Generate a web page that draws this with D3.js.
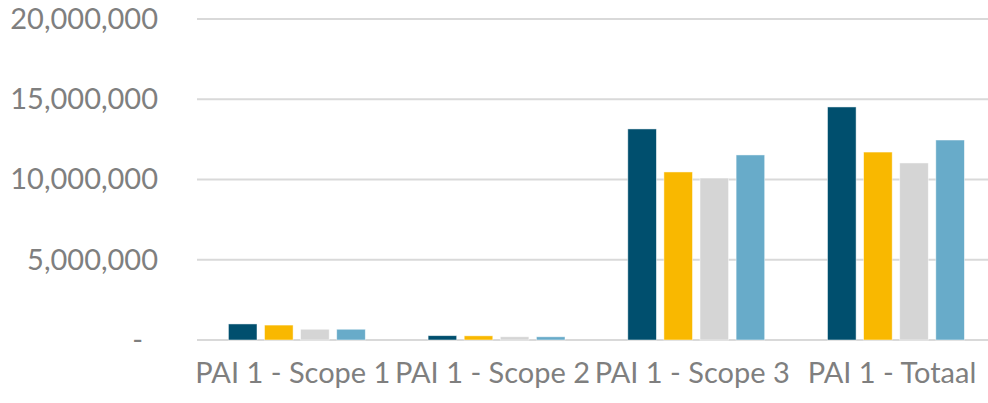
<!DOCTYPE html>
<html>
<head>
<meta charset="utf-8">
<script src="https://cdn.jsdelivr.net/npm/d3@7"></script>
<style>
  html, body { margin: 0; padding: 0; background: #ffffff; }
  svg { display: block; }
</style>
</head>
<body>
<svg id="chart" width="988" height="403"></svg>
<script>
// ---- Data ----
const categories = ["PAI 1 - Scope 1", "PAI 1 - Scope 2", "PAI 1 - Scope 3", "PAI 1 - Totaal"];
const seriesNames = ["Series 1", "Series 2", "Series 3", "Series 4"];
const series1 = [1000000, 270000, 13150000, 14520000];
const series2 = [930000, 260000, 10470000, 11710000];
const series3 = [670000, 200000, 10090000, 11030000];
const series4 = [670000, 200000, 11530000, 12460000];
const yTicks = [0, 5000000, 10000000, 15000000, 20000000];
const colors = ["#004F6E", "#F9B800", "#D5D5D5", "#68ABC9"];

const allSeries = [series1, series2, series3, series4];

// ---- Layout ----
const svg = d3.select("#chart");
const plotLeft = 197, groupStep = 199.7;
const plotTop = 19, plotBottom = 340;

const x0 = d3.scaleBand().domain(categories)
  .range([plotLeft, plotLeft + groupStep * categories.length]).padding(0);
const x1 = d3.scaleBand().domain(seriesNames)
  .range([31.4, groupStep - 31.4]).paddingInner(0.208).paddingOuter(0);
const y = d3.scaleLinear().domain([0, 20000000]).range([plotBottom, plotTop]);

const font = "Lato, 'Open Sans', sans-serif";
const textColor = "#7F7F7F";

// Gridlines
svg.append("g").selectAll("line").data(yTicks).join("line")
  .attr("x1", plotLeft).attr("x2", 988)
  .attr("y1", d => y(d)).attr("y2", d => y(d))
  .attr("stroke", "#D9D9D9").attr("stroke-width", 2);

// Y axis
const fmt = d3.format(",");
const yAxis = d3.axisLeft(y).tickValues(yTicks).tickSize(0).tickPadding(0)
  .tickFormat(d => d === 0 ? "-" : fmt(d));
const yg = svg.append("g").attr("transform", "translate(158,0)").call(yAxis);
yg.select(".domain").remove();
yg.selectAll("text")
  .attr("fill", textColor)
  .style("font-family", font)
  .style("font-size", "29px")
  .attr("dx", d => d === 0 ? -15 : 0);

// Bars
const groups = svg.append("g").selectAll("g").data(categories).join("g")
  .attr("transform", d => `translate(${x0(d)},0)`);
groups.selectAll("rect")
  .data((c, ci) => allSeries.map((s, si) => ({ name: seriesNames[si], value: s[ci], color: colors[si] })))
  .join("rect")
  .attr("x", d => x1(d.name))
  .attr("width", x1.bandwidth())
  .attr("y", d => y(d.value))
  .attr("height", d => y(0) - y(d.value))
  .attr("fill", d => d.color)
  .attr("stroke", "#ffffff").attr("stroke-opacity", 0.6).attr("stroke-width", 0.8);

// X axis labels
const xAxis = d3.axisBottom(x0).tickSize(0).tickPadding(0);
const xg = svg.append("g").attr("transform", `translate(-4,${plotBottom})`).call(xAxis);
xg.select(".domain").remove();
xg.selectAll("text")
  .attr("fill", textColor)
  .attr("dy", 0)
  .attr("y", 43)
  .style("font-family", font)
  .style("font-size", "29px");
</script>
</body>
</html>
